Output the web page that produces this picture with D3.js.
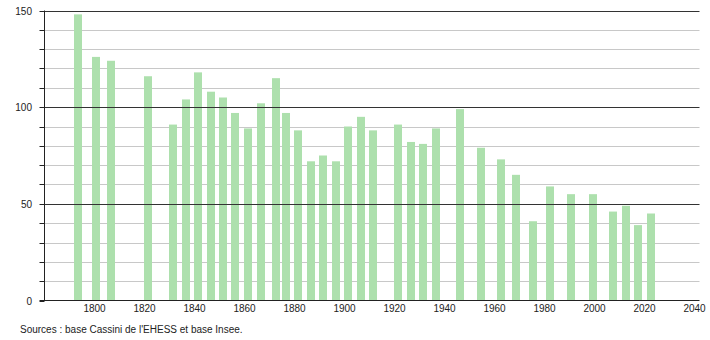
<!DOCTYPE html>
<html><head><meta charset="utf-8">
<script src="https://cdn.jsdelivr.net/npm/d3@7"></script>
<style>
html,body{margin:0;padding:0;background:#fff;}
svg{display:block;font-family:"Liberation Sans",Arial,sans-serif;}
</style></head>
<body>
<svg id="chart" width="710" height="340"></svg>
<script>
const years = [1793,1800,1806,1821,1831,1836,1841,1846,1851,1856,1861,1866,1872,1876,1881,1886,1891,1896,1901,1906,1911,1921,1926,1931,1936,1946,1954,1962,1968,1975,1982,1990,1999,2007,2012,2017,2022];
const population = [148,126,124,116,91,104,118,108,105,97,89,102,115,97,88,72,75,72,90,95,88,91,82,81,89,99,79,73,65,41,59,55,55,46,49,39,45];
const xTicks = [1800,1820,1840,1860,1880,1900,1920,1940,1960,1980,2000,2020,2040];
const yTicks = [0,50,100,150];
const sourceText = "Sources : base Cassini de l'EHESS et base Insee.";

const svg = d3.select("#chart");
const x = d3.scaleLinear().domain([1780, 2042]).range([44.5, 699.5]);
const y = d3.scaleLinear().domain([0, 150]).range([300.5, 10.5]);

// minor gridlines
const minor = d3.range(10, 151, 10).filter(v => v % 50 !== 0);
svg.append("g").selectAll("line").data(minor).join("line")
  .attr("x1", 44.5).attr("x2", 699.5)
  .attr("y1", d => Math.round(y(d)) + 0.5).attr("y2", d => Math.round(y(d)) + 0.5)
  .attr("stroke", "#c8c8c8").attr("stroke-width", 1);

// left tick marks every 10
svg.append("g").selectAll("line").data(d3.range(0, 151, 10)).join("line")
  .attr("x1", 39.5).attr("x2", 44.5)
  .attr("y1", d => Math.round(y(d)) + 0.5).attr("y2", d => Math.round(y(d)) + 0.5)
  .attr("stroke", "#222").attr("stroke-width", 1);

// bars
const barW = 8;
svg.append("g").selectAll("rect").data(years).join("rect")
  .attr("x", (d) => Math.round(x(d) + 1 - barW / 2))
  .attr("width", barW)
  .attr("y", (d, i) => y(population[i]))
  .attr("height", (d, i) => y(0) - y(population[i]))
  .attr("fill", "#ade0ad");

// major gridlines
svg.append("g").selectAll("line").data(yTicks.filter(v => v > 0)).join("line")
  .attr("x1", 44.5).attr("x2", 699.5)
  .attr("y1", d => Math.round(y(d)) + 0.5).attr("y2", d => Math.round(y(d)) + 0.5)
  .attr("stroke", "#333").attr("stroke-width", 1);

// axes lines
svg.append("line").attr("x1", 44.5).attr("x2", 44.5).attr("y1", y(150)).attr("y2", y(0))
  .attr("stroke", "#222");
svg.append("line").attr("x1", 39.5).attr("x2", 699.5).attr("y1", y(0)).attr("y2", y(0))
  .attr("stroke", "#222");

// y labels
svg.append("g").selectAll("text").data(yTicks).join("text")
  .attr("x", 32).attr("y", d => y(d) + 4)
  .attr("text-anchor", "end").attr("font-size", 10).attr("fill", "#222")
  .text(d => d);

// x labels
svg.append("g").selectAll("text").data(xTicks).join("text")
  .attr("x", d => x(d)).attr("y", 312)
  .attr("text-anchor", "middle").attr("font-size", 10).attr("fill", "#222")
  .text(d => d);

svg.append("text").attr("x", 20).attr("y", 333)
  .attr("font-size", 10).attr("fill", "#222").text(sourceText);
</script>
</body></html>
